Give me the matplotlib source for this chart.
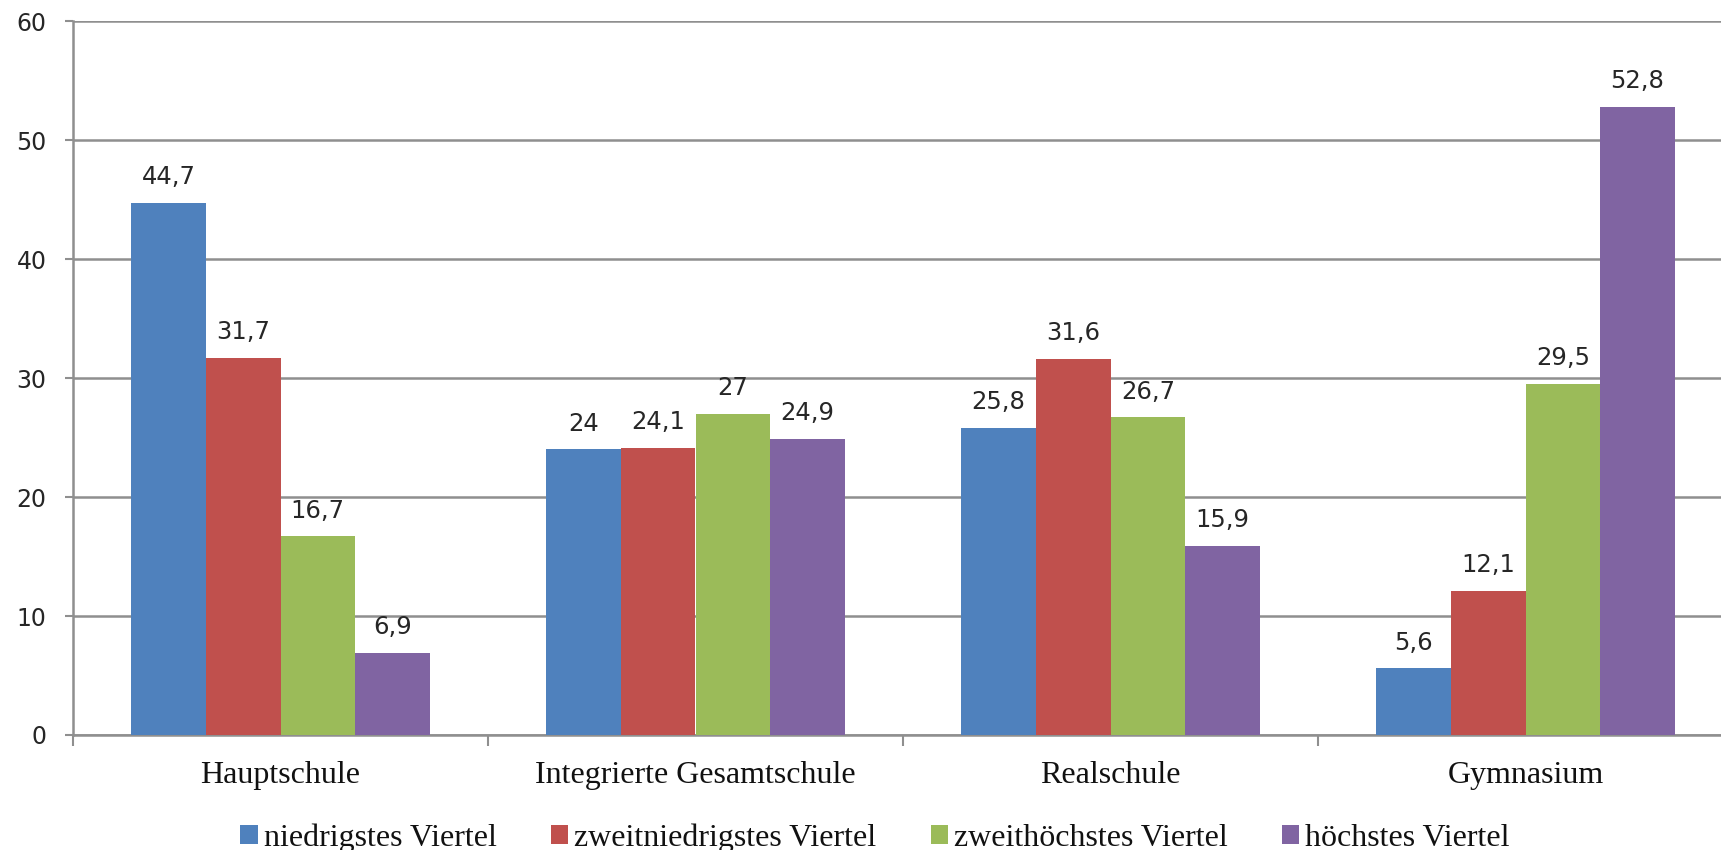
import matplotlib
matplotlib.use("Agg")
import matplotlib.pyplot as plt
import numpy as np
from matplotlib.ticker import FixedLocator, NullFormatter

categories = ["Hauptschule", "Integrierte Gesamtschule", "Realschule", "Gymnasium"]
series_names = ["niedrigstes Viertel", "zweitniedrigstes Viertel",
                "zweithöchstes Viertel", "höchstes Viertel"]
niedrigstes = [44.7, 24, 25.8, 5.6]
zweitniedrigstes = [31.7, 24.1, 31.6, 12.1]
zweithoechstes = [16.7, 27, 26.7, 29.5]
hoechstes = [6.9, 24.9, 15.9, 52.8]
y_ticks = [0, 10, 20, 30, 40, 50, 60]

series_values = [niedrigstes, zweitniedrigstes, zweithoechstes, hoechstes]
colors = ["#4F81BD", "#C0504D", "#9BBB59", "#8064A2"]

W, H = 1721, 850
fig = plt.figure(figsize=(W / 100, H / 100), dpi=100)
ax = fig.add_axes([73 / W, 115 / H, 1660 / W, 714 / H])

x = np.arange(len(categories))
bw = 0.18
offsets = [-1.5, -0.5, 0.5, 1.5]
for vals, off, col, name in zip(series_values, offsets, colors, series_names):
    bars = ax.bar(x + off * bw, vals, width=bw, color=col, label=name, zorder=3)
    for b, v in zip(bars, vals):
        ax.annotate(f"{v:g}".replace(".", ","),
                    xy=(b.get_x() + b.get_width() / 2, v),
                    xytext=(0, 13.5), textcoords="offset points",
                    ha="center", va="baseline", fontsize=17.5,
                    family="DejaVu Sans", color="#262626", zorder=4)

ax.set_xlim(-0.5, 3.5)
ax.set_ylim(0, 60)
ax.set_yticks(y_ticks)
ax.set_yticklabels([str(t) for t in y_ticks], fontsize=17, family="DejaVu Sans", color="#262626")
ax.yaxis.grid(True, color="#8f8f8f", linewidth=1.8, zorder=0)
ax.set_axisbelow(True)

ax.set_xticks(x)
ax.set_xticklabels(categories, fontsize=23, family="Liberation Serif", color="#111111")
ax.xaxis.set_minor_locator(FixedLocator([-0.5, 0.5, 1.5, 2.5, 3.5]))
ax.xaxis.set_minor_formatter(NullFormatter())
ax.tick_params(axis="x", which="major", length=0, pad=19)
ax.tick_params(axis="x", which="minor", length=8, width=1.5, color="#8f8f8f", direction="out")
ax.tick_params(axis="y", which="major", length=6, width=1.5, color="#8f8f8f", pad=13)

for s in ["top", "right"]:
    ax.spines[s].set_visible(False)
for s in ["left", "bottom"]:
    ax.spines[s].set_color("#8f8f8f")
    ax.spines[s].set_linewidth(1.8)

leg = fig.legend(loc="center", bbox_to_anchor=(875 / W, 12 / H), ncol=4,
                 frameon=False, prop={"family": "Liberation Serif", "size": 23},
                 handlelength=0.55, handleheight=0.55, handletextpad=0.18,
                 columnspacing=1.7, borderpad=0, borderaxespad=0)
for t in leg.get_texts():
    t.set_color("#111111")

fig.savefig("out.png", dpi=100)
